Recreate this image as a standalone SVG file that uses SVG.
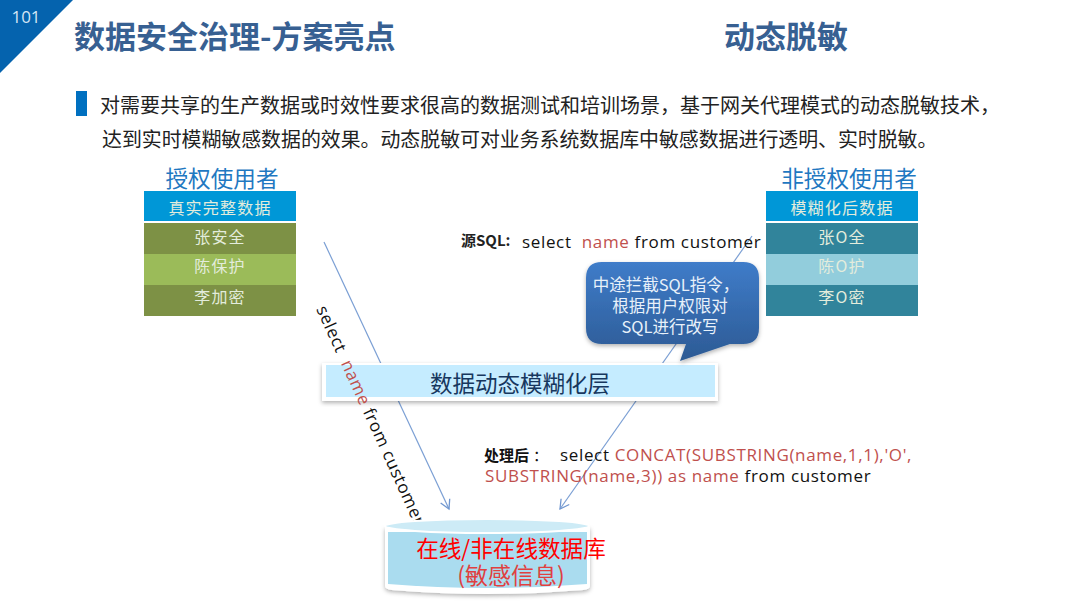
<svg xmlns="http://www.w3.org/2000/svg" width="1080" height="608" viewBox="0 0 1080 608">
<defs>
<style>
text{font-family:"Noto Sans CJK SC","Noto Sans",sans-serif}
.lat{font-family:"Open Sans","Noto Sans CJK SC",sans-serif;letter-spacing:.65px}
.c{text-anchor:middle}
.cell{font-size:16px;fill:#e3ecdc;text-anchor:middle;letter-spacing:1.2px}
.head{font-size:22.6px;fill:#1f78c1;text-anchor:middle}
.body{font-size:20px;fill:#222}
.sql{font-size:17px;fill:#111}
.red{fill:#c0504d}
.conn{fill:none;stroke:#7b9fd4;stroke-width:1.2}
</style>
<marker id="arr" markerWidth="12" markerHeight="12" refX="10" refY="6" orient="auto" markerUnits="userSpaceOnUse"><path d="M1 1L10 6L1 11" fill="none" stroke="#6f96d0" stroke-width="1.3"/></marker>
<linearGradient id="bub" x1="0" y1="0" x2="0" y2="1"><stop offset="0" stop-color="#3f7cc9"/><stop offset="1" stop-color="#2c5a94"/></linearGradient>
<filter id="sh" x="-10%" y="-10%" width="120%" height="125%"><feDropShadow dx="0" dy="2" stdDeviation="2" flood-color="#000" flood-opacity=".3"/></filter>
</defs>
<rect width="1080" height="608" fill="#fff"/>
<g id="corner"><path d="M0 0H73L0 73Z" fill="#0563ae"/><text x="26" y="23" class="c" font-size="17" fill="#d5e6f5" style="font-family:'Open Sans',sans-serif">101</text></g>
<g id="title"><text x="74" y="48" font-size="31" font-weight="700" fill="#376092">数据安全治理-方案亮点</text><text x="724" y="48" font-size="31" font-weight="700" fill="#376092">动态脱敏</text></g>
<g id="intro"><rect x="76" y="91" width="11" height="25" fill="#0070c0"/>
<text x="100" y="113" class="body">对需要共享的生产数据或时效性要求很高的数据测试和培训场景，基于网关代理模式的动态脱敏技术，</text>
<text x="102" y="147" class="body" style="font-size:19.9px">达到实时模糊敏感数据的效果。动态脱敏可对业务系统数据库中敏感数据进行透明、实时脱敏。</text></g>
<g id="connectors">
<line class="conn" x1="324" y1="242" x2="449" y2="509" marker-end="url(#arr)"/>
<line class="conn" x1="752" y1="236" x2="560" y2="509" marker-end="url(#arr)"/>
</g>
<g id="auth-user"><text x="222" y="187" class="head">授权使用者</text>
<rect x="144" y="191" width="152" height="30" fill="#0097d7"/><text x="220" y="214" class="cell">真实完整数据</text>
<rect x="144" y="223" width="152" height="31" fill="#7d9145"/><text x="220" y="243" class="cell">张安全</text>
<rect x="144" y="254" width="152" height="31" fill="#9bbb59"/><text x="220" y="272" class="cell">陈保护</text>
<rect x="144" y="285" width="152" height="31" fill="#7d9145"/><text x="220" y="303" class="cell">李加密</text></g>
<g id="unauth-user"><text x="849" y="187" class="head">非授权使用者</text>
<rect x="766" y="191" width="152" height="30" fill="#0097d7"/><text x="842" y="214" class="cell">模糊化后数据</text>
<rect x="766" y="223" width="152" height="31" fill="#31849b"/><text x="842" y="243" class="cell">张O全</text>
<rect x="766" y="254" width="152" height="31" fill="#92cddc"/><text x="842" y="272" class="cell">陈O护</text>
<rect x="766" y="285" width="152" height="31" fill="#31849b"/><text x="842" y="303" class="cell">李O密</text></g>
<g id="source-sql"><text x="461" y="246" font-size="15" font-weight="700" fill="#222">源SQL:</text>
<text x="522" y="248" class="lat sql" xml:space="preserve">select  <tspan class="red">name</tspan> from customer</text></g>
<g id="layer"><rect x="322" y="363" width="396" height="38" fill="#fff" filter="url(#sh)"/><rect x="326" y="365" width="389" height="32" fill="#c5ecff"/><text x="520" y="392" class="c" font-size="22.5" fill="#17375e">数据动态模糊化层</text></g>
<g id="callout"><path d="M602 262H743Q759 262 759 278V328Q759 344 743 344H730L680 361L686 344H602Q586 344 586 328V278Q586 262 602 262Z" fill="url(#bub)" filter="url(#sh)"/>
<text fill="#e8f1fa" font-size="16.5" class="c"><tspan x="666" y="291">中途拦截SQL指令，</tspan><tspan x="670" y="312">根据用户权限对</tspan><tspan x="670" y="333">SQL进行改写</tspan></text></g>
<g id="rotated-sql"><text class="lat" font-size="17" fill="#111" transform="translate(316,309) rotate(65.5)" xml:space="preserve">select  <tspan class="red">name</tspan> from customer</text></g>
<g id="processed-sql"><text x="484" y="461" font-size="15" font-weight="700" fill="#111">处理后<tspan font-weight="400" dx="4">：</tspan></text>
<text x="560" y="461" class="lat sql">select <tspan class="red">CONCAT(SUBSTRING(name,1,1),'O',</tspan></text>
<text x="485" y="482" class="lat sql red">SUBSTRING(name,3)) as name <tspan fill="#111">from customer</tspan></text></g>
<g id="database"><path d="M385 527V586Q385 589 392 590Q487 598 583 590Q590 589 590 586V527Z" fill="#fff" filter="url(#sh)"/><path d="M388 532V584Q487 592 587 584V532Z" fill="#aadcef"/><ellipse cx="487" cy="526" rx="102" ry="7" fill="#cdebf6" stroke="#fff" stroke-width="2"/>
<text fill="#f00" font-size="22.6" class="c" x="511" y="557">在线/非在线数据库</text><text fill="#e04040" font-size="23" class="c" x="511" y="584">(敏感信息)</text></g>
</svg>
